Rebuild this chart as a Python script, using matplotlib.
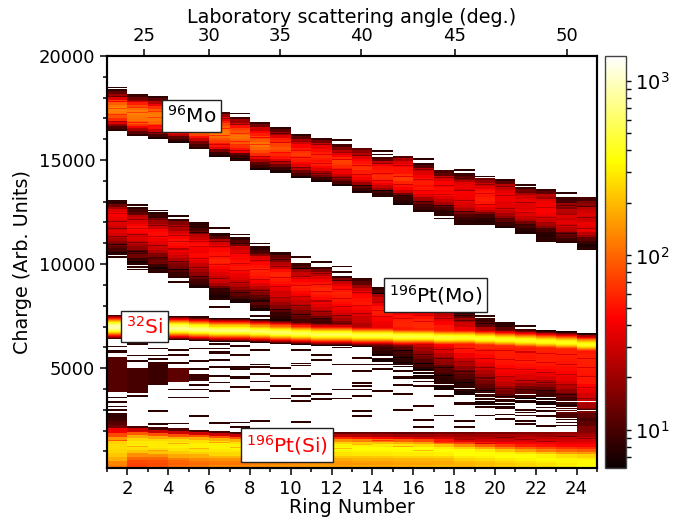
# coding=utf-8
import numpy as np
import matplotlib
matplotlib.use('Agg')
import matplotlib.pyplot as plt
from matplotlib.colors import LogNorm
from matplotlib.ticker import MultipleLocator, NullFormatter

ring_edges = np.arange(1, 26)
charge_edges = np.arange(200, 20001, 50)

angle_ticks = [25, 30, 35, 40, 45, 50]
angle_ring_pos = [2.81, 6.0, 9.47, 13.44, 18.04, 23.53]

# 96Mo band, counts go from top of the band to the bottom
mo_top = [18400, 18150, 18100, 17750, 17500, 17300, 17050, 16850, 16600, 16250, 16050, 15750,
          15600, 15150, 15200, 14850, 14500, 14400, 14150, 14100, 13700, 13600, 13200, 13200]
mo_bot = [16400, 16150, 16000, 15800, 15550, 15150, 15000, 14500, 14400, 14150, 13950, 13750,
          13400, 13200, 12850, 12500, 12350, 11950, 11950, 11750, 11500, 11300, 11000, 10800]
mo_counts = [
    [8, 12, 20, 35, 70, 95, 115, 130, 125, 105, 85, 60, 35, 18, 10, 8],
    [9, 14, 30, 55, 80, 105, 120, 125, 115, 110, 90, 65, 40, 22, 12, 8],
    [8, 12, 25, 40, 65, 90, 110, 120, 115, 100, 75, 50, 30, 18, 10, 7],
    [8, 11, 24, 40, 60, 85, 100, 115, 110, 95, 70, 45, 25, 12, 9, 7],
    [8, 15, 30, 45, 70, 90, 105, 110, 110, 90, 75, 50, 30, 15, 10, 8],
    [9, 20, 35, 55, 75, 95, 105, 115, 105, 85, 70, 50, 35, 15, 9, 7],
    [10, 20, 30, 50, 70, 85, 100, 110, 95, 90, 65, 50, 40, 12, 9, 7],
    [9, 14, 30, 45, 55, 75, 90, 110, 100, 80, 60, 40, 22, 12, 9, 7],
    [8, 12, 20, 35, 55, 60, 75, 85, 75, 60, 50, 35, 25, 14, 9, 7],
    [8, 12, 22, 30, 45, 55, 65, 70, 60, 55, 45, 35, 25, 14, 10, 7],
    [9, 14, 28, 38, 48, 55, 60, 55, 50, 55, 45, 35, 22, 14, 9, 7],
    [10, 16, 26, 34, 45, 60, 75, 70, 60, 50, 40, 30, 22, 14, 10, 7],
    [12, 18, 24, 34, 45, 50, 60, 65, 55, 48, 42, 32, 20, 12, 9, 7],
    [10, 12, 28, 40, 50, 52, 55, 62, 58, 48, 38, 28, 20, 10, 8, 7],
    [11, 22, 34, 42, 50, 50, 62, 70, 58, 50, 44, 30, 14, 9, 8, 7],
    [8, 11, 26, 34, 42, 50, 55, 48, 52, 44, 34, 22, 14, 10, 9, 7],
    [10, 12, 30, 36, 44, 42, 48, 42, 46, 36, 28, 22, 14, 10, 8, 8],
    [9, 12, 24, 36, 38, 34, 42, 40, 38, 34, 30, 24, 16, 11, 9, 7],
    [14, 18, 30, 36, 48, 52, 50, 56, 52, 44, 36, 26, 16, 10, 8, 7],
    [8, 12, 26, 28, 36, 40, 40, 36, 36, 34, 28, 22, 18, 12, 9, 7],
    [9, 14, 22, 32, 38, 34, 36, 34, 40, 34, 28, 24, 14, 10, 8, 7],
    [9, 12, 26, 34, 40, 42, 44, 44, 40, 34, 30, 22, 16, 10, 8, 7],
    [9, 10, 20, 16, 26, 24, 34, 28, 36, 32, 26, 24, 14, 12, 9, 8],
    [10, 16, 18, 26, 30, 34, 30, 30, 38, 34, 38, 26, 20, 12, 9, 7],
]

# 196Pt recoils from Mo, runs behind the Si line on the higher rings
ptmo_top = [13000, 12750, 12500, 12150, 11900, 11500, 11300, 10850, 10600, 10050, 9850, 9450,
            9350, 8900, 8400, 8300, 8050, 7800, 7400, 7200, 6900, 6700, 6700, 6600]
ptmo_bot = [10500, 10050, 9750, 9350, 8850, 8350, 8150, 7750, 7200, 7050, 6950, 6750,
            6000, 5300, 5000, 4500, 3950, 3700, 3250, 3150, 3250, 3250, 2600, 1950]
ptmo_counts = [
    [8, 14, 22, 34, 45, 42, 38, 32, 34, 30, 28, 36, 32, 26, 22, 18, 14, 12, 10, 7],
    [8, 10, 12, 26, 30, 34, 42, 48, 44, 36, 30, 34, 26, 22, 18, 12, 10, 14, 9, 7],
    [8, 9, 14, 20, 26, 30, 44, 48, 46, 40, 36, 32, 30, 24, 16, 16, 12, 14, 9, 7],
    [9, 16, 24, 22, 32, 40, 44, 50, 48, 44, 40, 34, 30, 24, 20, 16, 14, 11, 9, 8],
    [8, 10, 14, 26, 30, 42, 48, 42, 38, 46, 42, 36, 28, 26, 22, 18, 14, 10, 9, 7],
    [8, 11, 24, 32, 40, 46, 50, 52, 58, 52, 46, 40, 34, 28, 30, 22, 14, 9, 8, 7],
    [8, 11, 14, 30, 34, 44, 46, 50, 48, 52, 46, 38, 34, 28, 24, 18, 14, 12, 10, 7],
    [8, 10, 18, 34, 38, 46, 50, 58, 54, 50, 44, 34, 26, 20, 16, 12, 10, 12, 9, 7],
    [8, 12, 16, 24, 30, 48, 58, 54, 50, 44, 38, 30, 32, 26, 20, 16, 12, 9, 8, 7],
    [9, 11, 20, 28, 34, 44, 50, 56, 52, 46, 40, 34, 28, 24, 20, 16, 14, 12, 10, 8],
    [9, 14, 26, 34, 42, 50, 56, 60, 56, 50, 46, 40, 36, 30, 24, 20, 14, 10, 9, 8],
    [9, 16, 28, 36, 46, 52, 58, 55, 52, 48, 44, 40, 36, 30, 26, 22, 16, 12, 10, 8],
    [9, 12, 20, 30, 40, 46, 50, 52, 46, 40, 36, 30, 28, 24, 20, 16, 12, 9, 8, 7],
    [8, 10, 22, 30, 40, 50, 55, 50, 45, 40, 38, 36, 34, 28, 20, 12, 9, 8, 8, 7],
    [9, 14, 24, 36, 44, 50, 56, 58, 52, 46, 40, 34, 24, 14, 12, 10, 9, 8, 8, 7],
    [9, 18, 30, 40, 50, 58, 60, 56, 50, 44, 36, 28, 22, 18, 14, 11, 10, 8, 7, 7],
    [8, 14, 26, 36, 44, 52, 56, 58, 54, 44, 34, 26, 20, 18, 12, 11, 9, 8, 8, 7],
    [8, 12, 20, 30, 40, 50, 56, 60, 56, 50, 40, 30, 24, 18, 14, 11, 9, 8, 8, 7],
    [9, 12, 24, 40, 60, 70, 60, 50, 46, 42, 36, 30, 24, 20, 15, 12, 10, 9, 8, 7],
    [8, 12, 30, 50, 60, 60, 54, 54, 52, 50, 46, 42, 38, 32, 26, 20, 15, 11, 8, 7],
    [10, 30, 60, 70, 60, 55, 52, 52, 54, 50, 46, 40, 34, 28, 20, 15, 12, 9, 8, 7],
    [12, 60, 70, 60, 58, 56, 54, 54, 52, 48, 44, 38, 32, 24, 18, 13, 10, 9, 8, 7],
    [12, 70, 60, 58, 56, 54, 52, 50, 48, 44, 38, 32, 25, 18, 13, 10, 9, 10, 12, 10],
    [20, 120, 60, 52, 56, 56, 54, 52, 50, 52, 44, 38, 32, 28, 22, 16, 12, 10, 12, 16],
]

# 32Si line, counts per 50 unit bin around the centre
si_center = [6950, 6950, 6900, 6900, 6850, 6800, 6800, 6750, 6700, 6650, 6600, 6600,
             6550, 6550, 6500, 6500, 6450, 6450, 6400, 6350, 6300, 6250, 6200, 6100]
si_peak = [900, 800, 800, 750, 700, 650, 650, 600, 600, 550, 550, 550,
           500, 500, 500, 480, 480, 450, 450, 420, 420, 400, 400, 400]
si_shape = [.012, .02, .035, .06, .1, .16, .25, .38, .55, .75, .92, 1,
            .92, .75, .55, .38, .25, .16, .1, .06, .035, .02, .012]

# 196Pt recoils from Si, from band top down to the axis bottom
ptsi_top = [2800, 2200, 2150, 2100, 2050, 2000, 1950, 1950, 1950, 1950, 1950, 1950,
            1950, 1950, 1950, 1950, 1950, 1950, 1950, 1950, 1950, 1950, 1950, 1950]
ptsi_counts = [
    [8, 9, 11, 14, 40, 80, 150, 240, 260, 250, 220, 180, 130, 120],
    [10, 30, 90, 170, 250, 290, 300, 270, 220, 140, 100, 80, 75, 75],
    [10, 28, 85, 170, 250, 300, 300, 270, 210, 140, 100, 85, 80, 85],
    [11, 30, 85, 180, 260, 300, 310, 280, 230, 170, 120, 100, 95, 105],
    [10, 30, 85, 180, 270, 310, 310, 280, 240, 180, 130, 110, 105, 115],
    [10, 30, 85, 180, 270, 310, 320, 290, 250, 190, 140, 120, 115, 130],
    [10, 30, 85, 180, 270, 310, 320, 290, 250, 190, 140, 120, 115, 130],
    [11, 28, 80, 170, 260, 320, 330, 300, 260, 200, 150, 130, 125, 140],
    [11, 28, 75, 160, 250, 320, 330, 310, 270, 210, 160, 135, 130, 150],
    [12, 26, 70, 155, 250, 320, 340, 310, 270, 210, 170, 145, 140, 150],
    [12, 25, 65, 150, 240, 320, 340, 320, 280, 220, 175, 150, 145, 160],
    [12, 25, 60, 140, 240, 320, 340, 320, 280, 220, 175, 150, 145, 160],
    [13, 24, 52, 125, 225, 320, 345, 330, 290, 220, 185, 160, 145, 170],
    [13, 22, 45, 110, 210, 300, 345, 330, 290, 230, 185, 160, 155, 170],
    [12, 20, 38, 95, 185, 290, 345, 340, 300, 240, 190, 170, 160, 180],
    [13, 20, 32, 80, 160, 270, 345, 345, 300, 240, 190, 175, 160, 190],
    [14, 22, 30, 52, 110, 210, 300, 350, 310, 250, 200, 175, 170, 200],
    [14, 20, 26, 36, 70, 140, 240, 340, 350, 300, 240, 205, 185, 200],
    [16, 20, 24, 32, 52, 95, 180, 290, 345, 320, 260, 220, 205, 220],
    [15, 22, 26, 30, 44, 70, 125, 220, 320, 345, 290, 245, 220, 240],
    [16, 22, 28, 32, 40, 56, 95, 165, 270, 345, 320, 275, 245, 260],
    [17, 20, 26, 32, 40, 50, 78, 125, 220, 320, 345, 305, 275, 280],
    [18, 22, 28, 30, 38, 46, 66, 100, 165, 270, 330, 330, 300, 320],
    [18, 22, 28, 32, 38, 46, 62, 92, 150, 240, 305, 340, 330, 350],
]

# dim blocks below the Si line on the first rings
low_blocks_ring = [1, 1, 2, 3, 4, 5]
low_blocks_high = [5550, 2830, 5000, 5300, 5000, 4670]
low_blocks_low = [3870, 2800, 3800, 4200, 4350, 4430]
low_blocks_count = [11, 9, 10, 9, 12, 9]

# single thin lines in the white regions, per ring
stray_lines = [
    [18450, 13030, 10470, 10340, 6000, 5790, 3550, 3310, 3150, 2990],
    [12840, 9960, 9830, 9700, 6110, 5600, 5310, 3630],
    [12550, 9670, 9560, 5900, 5600, 5420, 2910, 2270],
    [12280, 9150, 9100, 5820, 5630, 5230, 3950, 3550, 2300],
    [11910, 7430, 5900, 5310, 4910, 4190, 3950, 3550, 2670],
    [11720, 8280, 7930, 6110, 5900, 5710, 5360, 5040, 4590, 4300, 3870, 2320],
    [17200, 14970, 11400, 6030, 5630, 5040, 4910, 4510, 4060, 2350, 2110],
    [14680, 10950, 7480, 5820, 5150, 5040, 4670, 4350, 3920, 2430],
    [6190, 4990, 4560, 4110, 3500],
    [10330, 5820, 5200, 5100, 4560, 3980, 3630, 3370, 2390],
    [10090, 5630, 5360, 4670, 3710, 3470],
    [15920, 9850, 9560, 5950, 5150, 3950, 3500],
    [13400, 5470, 5150, 4830, 4270, 4110, 3950, 3630, 2910, 2670],
    [15440, 15250, 13210, 5150, 4910, 3870],
    [9030, 4830, 4510, 4190, 3710, 2990],
    [15030, 12500, 4350, 4110, 3180, 3150, 2460, 2110],
    [12310, 12150, 3630, 2700],
    [14490, 12040, 11910, 3270, 2430, 2110],
    [14200, 11910, 7480, 3110, 2700],
    [3070, 2750, 2510],
    [13790, 11450, 7000, 2990, 2850, 2700, 2430, 2270],
    [11280, 11190, 11090, 3100, 2910, 2670, 2190],
    [13370, 2500, 2350, 2200],
    [10710],
]

# thin darker stripes inside the bands, per ring
dim_stripes = [
    [18050, 17800, 17450, 17150, 16850, 12400, 12000, 11700, 11300, 10900, 1500],
    [17850, 17500, 17250, 16800, 16500, 12100, 11700, 11400, 11000, 10600, 1200],
    [17700, 17300, 17000, 16650, 16300, 12200, 11850, 11300, 10850, 10300, 1000],
    [17300, 17050, 16700, 16350, 11800, 11350, 11050, 10700, 10100, 9700, 1350],
    [17000, 16750, 16300, 16000, 11500, 11050, 10800, 10250, 9800, 9400, 1100],
    [16950, 16500, 16150, 15700, 11050, 10800, 10350, 9950, 9300, 8800, 1400],
    [16700, 16250, 15850, 15450, 10950, 10500, 10000, 9650, 9100, 8600, 1150],
    [16400, 16050, 15700, 15150, 10500, 10150, 9700, 9250, 8700, 8200, 1350],
    [16250, 15800, 15350, 14900, 10200, 9850, 9350, 8900, 8350, 7800, 1000],
    [15850, 15450, 15100, 14600, 9750, 9400, 8950, 8400, 8000, 7550, 1250],
    [15700, 15250, 14800, 14350, 9500, 9000, 8650, 8200, 7700, 7350, 1450],
    [15350, 15000, 14500, 14150, 9200, 8750, 8300, 7950, 7500, 5700, 1100],
    [15200, 14700, 14300, 13750, 9000, 8600, 8000, 7600, 5900, 5600, 1300],
    [14800, 14350, 14000, 13500, 8550, 8150, 7750, 7450, 5650, 5400, 1500],
    [14700, 14200, 13800, 13250, 8100, 7800, 7350, 5800, 5500, 5250, 1200],
    [14500, 14050, 13500, 13000, 7950, 7500, 7200, 5650, 5200, 4900, 1000],
    [14150, 13750, 13300, 12800, 7700, 7350, 5850, 5450, 5000, 4600, 1400],
    [14050, 13500, 13050, 12500, 7500, 7250, 5900, 5300, 4800, 4300, 1550],
    [13800, 13350, 12850, 12350, 7100, 5800, 5450, 5000, 4500, 3900, 1350],
    [13700, 13250, 12650, 12150, 5800, 5400, 4950, 4550, 4000, 3600, 1650],
    [13400, 12950, 12450, 11900, 5750, 5350, 4900, 4400, 3950, 3500, 1550],
    [13150, 12700, 12200, 11700, 5700, 5250, 4750, 4300, 3900, 3500, 1450],
    [12800, 12350, 11850, 11450, 5650, 5150, 4650, 4200, 3700, 3200, 1700],
    [12750, 12200, 11700, 11250, 5450, 5000, 4550, 4050, 3500, 3000, 1600],
]

# white gaps between the thin lines in the tail on the higher rings, per ring
gap_lines = [
    [], [], [], [], [], [], [], [], [], [], [], [],
    [5650, 5450], [5550, 5500], [5100, 5000], [4800, 4650], [4200], [4000],
    [3750, 3550, 3400], [3500, 3300, 3200], [3700, 3450, 3250, 3000],
    [3550, 3400, 3050, 2950], [3350, 3100, 3000, 2900], [3350, 2950],
]

labels = [r'$^{96}$Mo', r'$^{196}$Pt(Mo)', r'$^{32}$Si', r'$^{196}$Pt(Si)']
label_x = [5.15, 17.1, 2.85, 9.8]
label_y = [17100, 8500, 7000, 1300]
label_colors = ['black', 'black', 'red', 'red']


def fill_cells(H, ring, high, low, count):
    i0 = np.searchsorted(charge_edges, low, side='right') - 1
    i1 = np.searchsorted(charge_edges, high, side='left')
    i0 = max(i0, 0)
    i1 = max(i1, i0 + 1)
    H[i0:i1, ring] = np.maximum(H[i0:i1, ring], count)


def fill_band(H, ring, top, bot, counts):
    edges = np.linspace(top, bot, len(counts) + 1)
    for k in range(len(counts)):
        fill_cells(H, ring, edges[k], edges[k + 1], counts[k])


H = np.zeros((len(charge_edges) - 1, len(ring_edges) - 1))
for r in range(24):
    fill_band(H, r, mo_top[r], mo_bot[r], mo_counts[r])
    fill_band(H, r, ptmo_top[r], ptmo_bot[r], ptmo_counts[r])
    fill_band(H, r, ptsi_top[r], 200, ptsi_counts[r])
    for c in dim_stripes[r]:
        i = np.searchsorted(charge_edges, c, side='right') - 1
        H[i, r] = H[i, r] * 0.6
    for c in gap_lines[r]:
        i = np.searchsorted(charge_edges, c, side='right') - 1
        H[i, r] = 0
    for k in range(len(si_shape)):
        c = si_center[r] + 50 * (11 - k)
        fill_cells(H, r, c + 50, c, max(si_shape[k] * si_peak[r], 7))
    for c in stray_lines[r]:
        fill_cells(H, r, c + 50, c, 8)
for k in range(len(low_blocks_ring)):
    fill_cells(H, low_blocks_ring[k] - 1, low_blocks_high[k], low_blocks_low[k], low_blocks_count[k])

plt.rcParams['font.size'] = 13
fig = plt.figure(figsize=(6.91, 5.2), dpi=100)
ax = fig.add_axes([107 / 691, 52 / 520, 490 / 691, 412 / 520])
cax = fig.add_axes([605 / 691, 52 / 520, 20.5 / 691, 412 / 520])

mesh = ax.pcolormesh(ring_edges, charge_edges, np.ma.masked_equal(H, 0), cmap='hot',
                     norm=LogNorm(vmin=6.05, vmax=1390))
ax.set_xlim(1, 25)
ax.set_ylim(200, 20000)
ax.set_xlabel('Ring Number', fontsize=13.75, labelpad=0)
ax.set_ylabel('Charge (Arb. Units)', fontsize=13.75, labelpad=5)
ax.xaxis.set_major_locator(MultipleLocator(2))
ax.xaxis.set_minor_locator(MultipleLocator(1))
ax.xaxis.set_major_formatter(plt.FuncFormatter(lambda v, p: '%d' % v if 1 < v < 25 else ''))
ax.yaxis.set_major_locator(MultipleLocator(5000))
ax.yaxis.set_minor_locator(MultipleLocator(1000))
ax.tick_params(which='major', length=5, width=1.1, labelsize=13)
ax.tick_params(which='minor', length=3, width=1.1)
for s in ax.spines.values():
    s.set_linewidth(1.5)

top = ax.twiny()
top.set_xlim(1, 25)
top.set_xticks(angle_ring_pos)
top.set_xticklabels([str(a) for a in angle_ticks])
top.set_xlabel('Laboratory scattering angle (deg.)', fontsize=13.75, labelpad=3)
top.tick_params(which='major', length=5, width=1.1, labelsize=13, pad=3)
for s in top.spines.values():
    s.set_linewidth(1.5)

for i in range(len(labels)):
    ax.text(label_x[i], label_y[i], labels[i], color=label_colors[i], fontsize=14.5,
            ha='center', va='center', zorder=5,
            bbox=dict(fc='white', ec='#222222', lw=1, boxstyle='square,pad=0.25'))

cb = fig.colorbar(mesh, cax=cax)
cb.outline.set_linewidth(1)
cb.outline.set_edgecolor('#444444')
cax.tick_params(which='both', length=3.5, width=1, labelsize=14)
cax.yaxis.set_minor_formatter(NullFormatter())

plt.savefig('out.png', dpi=100)
